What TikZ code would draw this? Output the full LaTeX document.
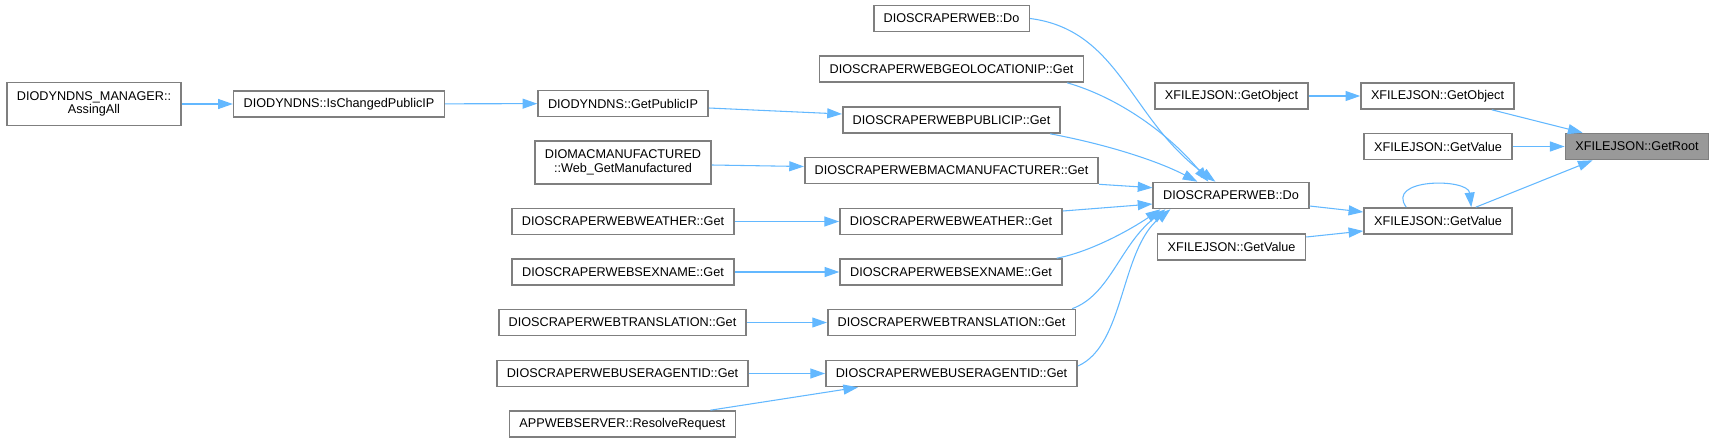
\documentclass[tikz,border=0pt]{standalone}
\usepackage{fontspec}
\setmainfont{Liberation Sans}
\usetikzlibrary{arrows.meta,calc}
\definecolor{edgeblue}{HTML}{63B8FF}
\definecolor{boxgray}{HTML}{7F7F7F}
\definecolor{rootgray}{HTML}{999999}

\begin{document}
\begin{tikzpicture}[
        x=0.75pt, y=-0.75pt,
        >={Triangle[length=11pt,width=7.5pt]},
        box/.style={
            rectangle,
            draw=boxgray,
            line width=1.2pt,
            fill=white,
            align=center,
            font=\fontsize{9.5}{10}\selectfont,
            inner xsep=7.5pt,
            inner ysep=3pt,
            minimum height=19.5pt
        },
        root/.style={box, fill=rootgray},
        arrow/.style={->, line width=0.8pt, draw=edgeblue}
    ]

    \useasboundingbox (0,0) rectangle (1715,443);

    \node[box, minimum height=32pt] (dyndnsmgr) at (94,104) {DIODYNDNS\_MANAGER::\\AssingAll};
    \node[box] (ischanged) at (339,104) {DIODYNDNS::IsChangedPublicIP};
    \node[box] (getpublicip) at (623,103.5) {DIODYNDNS::GetPublicIP};
    \node[box, minimum height=32pt] (macmanuf) at (623,162.5) {DIOMACMANUFACTURED\\::Web\_GetManufactured};
    \node[box] (weatherl) at (623,221.5) {DIOSCRAPERWEBWEATHER::Get};
    \node[box] (sexnamel) at (623,272) {DIOSCRAPERWEBSEXNAME::Get};
    \node[box] (translationl) at (622.5,322.5) {DIOSCRAPERWEBTRANSLATION::Get};
    \node[box] (useragentl) at (622.5,373.5) {DIOSCRAPERWEBUSERAGENTID::Get};
    \node[box] (appserver) at (622.5,424) {APPWEBSERVER::ResolveRequest};

    \node[box] (webdotop) at (951.5,18.5) {DIOSCRAPERWEB::Do};
    \node[box] (geoloc) at (951.5,69) {DIOSCRAPERWEBGEOLOCATIONIP::Get};
    \node[box] (publicip) at (951.5,120) {DIOSCRAPERWEBPUBLICIP::Get};
    \node[box] (macget) at (951.5,170.5) {DIOSCRAPERWEBMACMANUFACTURER::Get};
    \node[box] (weatherr) at (951,221.5) {DIOSCRAPERWEBWEATHER::Get};
    \node[box] (sexnamer) at (951,272) {DIOSCRAPERWEBSEXNAME::Get};
    \node[box] (translationr) at (951.5,322.5) {DIOSCRAPERWEBTRANSLATION::Get};
    \node[box] (useragentr) at (951.5,373.5) {DIOSCRAPERWEBUSERAGENTID::Get};

    \node[box] (getobjl) at (1231.5,96) {XFILEJSON::GetObject};
    \node[box] (webdo) at (1231,195.5) {DIOSCRAPERWEB::Do};
    \node[box] (getvaluel) at (1231.5,247) {XFILEJSON::GetValue};

    \node[box] (getobjr) at (1437.5,96) {XFILEJSON::GetObject};
    \node[box] (getvaluem) at (1438,146.5) {XFILEJSON::GetValue};
    \node[box] (getvalue) at (1438,221) {XFILEJSON::GetValue};

    \node[root] (getroot) at (1637,146.5) {XFILEJSON::GetRoot};

    \draw[arrow] (dyndnsmgr) -- (ischanged);
    \draw[arrow] (ischanged) -- (getpublicip);
    \draw[arrow] ($(getpublicip.east)+(0,4.5)$) -- ($(publicip.west)+(0,-6)$);
    \draw[arrow] ($(macmanuf.east)+(0,2.5)$) -- ($(macget.west)+(0,-4)$);
    \draw[arrow] (weatherl) -- (weatherr);
    \draw[arrow] (sexnamel) -- (sexnamer);
    \draw[arrow] (translationl) -- (translationr);
    \draw[arrow] (useragentl) -- (useragentr);
    \draw[arrow] ($(appserver.north east)+(-26,0)$) -- ($(useragentr.south west)+(33,0)$);

    \draw[arrow] (webdotop.east) .. controls (1120,30) and (1130,120) .. ($(webdo.north west)+(63,0)$);
    \draw[arrow] ($(geoloc.south east)+(-17,0)$) .. controls (1120,98) and (1170,135) .. ($(webdo.north west)+(56,0)$);
    \draw[arrow] ($(publicip.south east)+(-11,0)$) .. controls (1110,145) and (1160,162) .. ($(webdo.north west)+(45,0)$);
    \draw[arrow] (macget.south east) -- ($(webdo.north west)+(0,6)$);
    \draw[arrow] ($(weatherr.east)+(0,-10.5)$) -- ($(webdo.west)+(0,8.5)$);
    \draw[arrow] ($(sexnamer.north east)+(-6,0)$) .. controls (1090,252) and (1130,230) .. ($(webdo.south west)+(8,0)$);
    \draw[arrow] ($(translationr.north east)+(-4,0)$) .. controls (1110,295) and (1120,245) .. ($(webdo.south west)+(13,0)$);
    \draw[arrow] ($(useragentr.east)+(0,-7.5)$) .. controls (1125,345) and (1120,250) .. ($(webdo.south west)+(18,0)$);

    \draw[arrow] (getobjl) -- (getobjr);
    \draw[arrow] ($(webdo.east)+(0,10.5)$) -- ($(getvalue.west)+(0,-9)$);
    \draw[arrow] ($(getvaluel.east)+(0,-10)$) -- ($(getvalue.west)+(0,10)$);
    \draw[arrow] ($(getvalue.north west)+(43,0)$) .. controls (1385,178) and (1468,178) .. ($(getvalue.north west)+(108,0)$);
    \draw[arrow] ($(getobjr.south east)+(-23,0)$) -- ($(getroot.north west)+(18,0)$);
    \draw[arrow] (getvaluem) -- (getroot);
    \draw[arrow] ($(getvalue.north east)+(-37,0)$) -- ($(getroot.south west)+(28,0)$);

    \end{tikzpicture}
\end{document}
